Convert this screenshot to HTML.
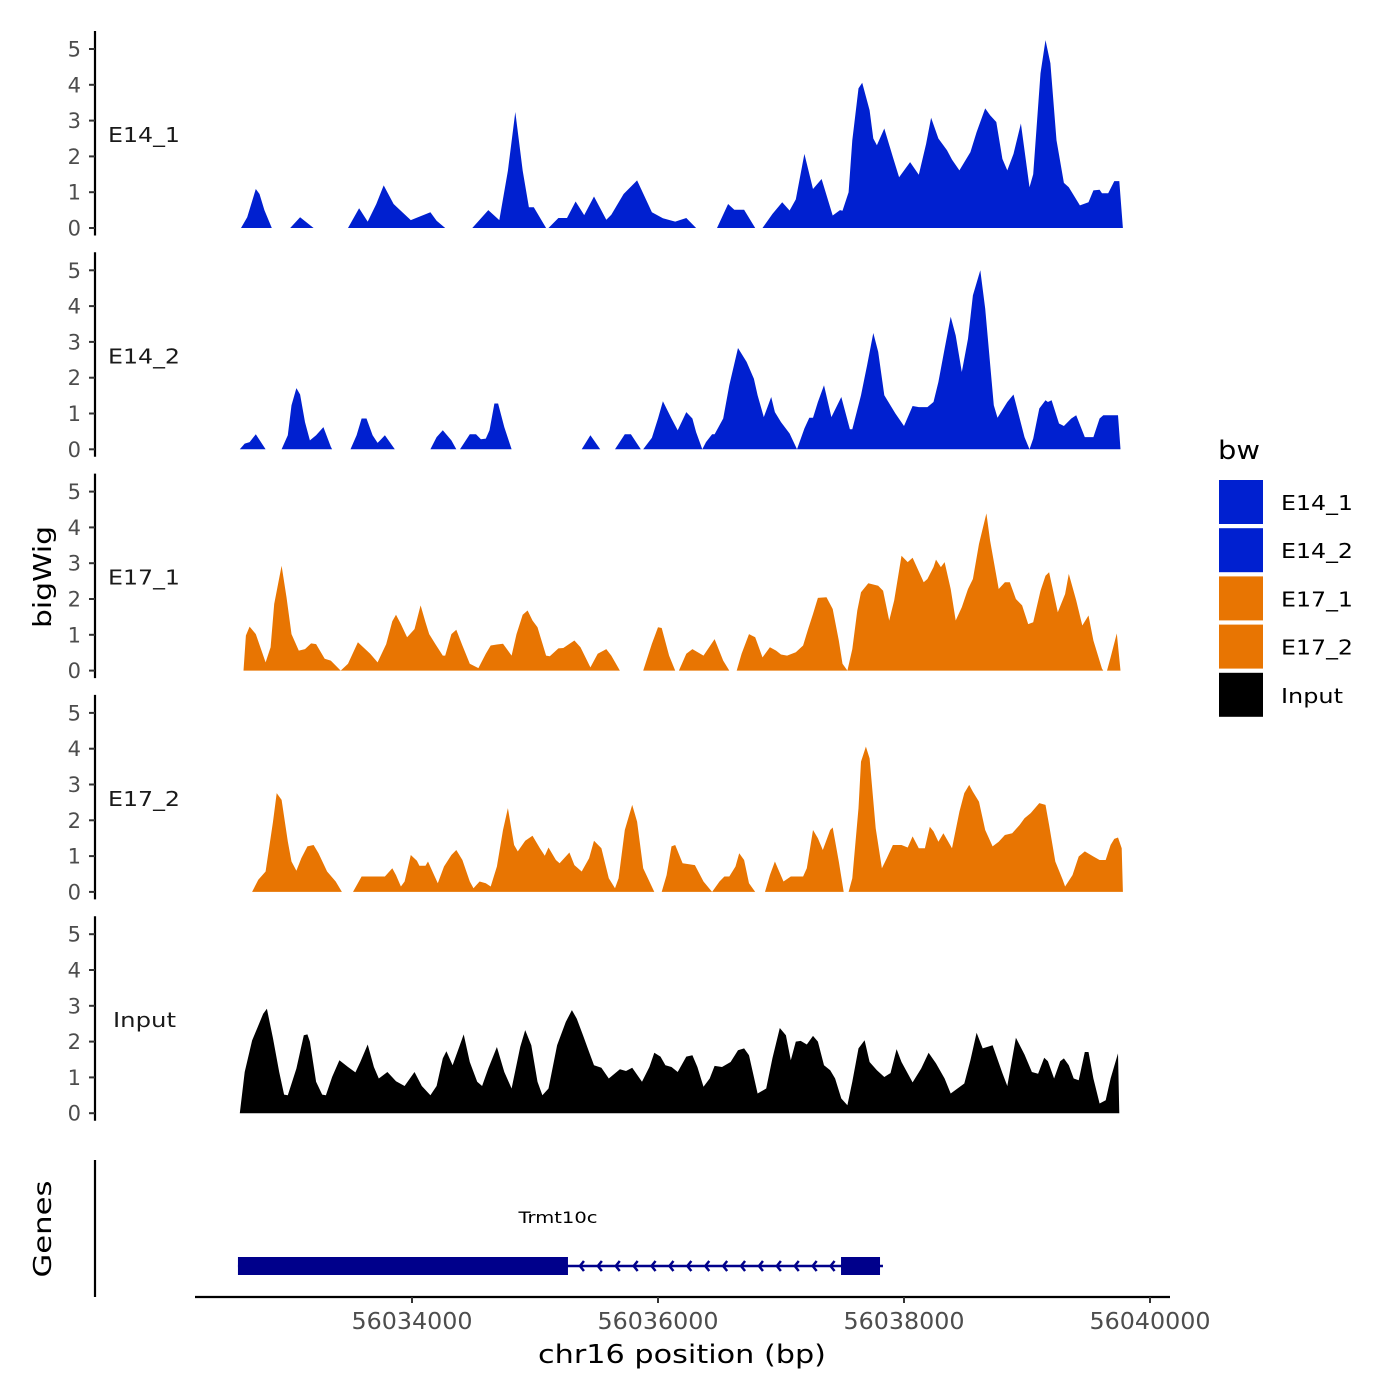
<!DOCTYPE html>
<html><head><meta charset="utf-8"><style>
html,body{margin:0;padding:0;background:#fff;}
svg{display:block;font-family:"DejaVu Sans","Liberation Sans",sans-serif;}
</style></head><body>
<svg id="chart" width="1400" height="1400" viewBox="0 0 1400 1400" xmlns="http://www.w3.org/2000/svg">
<g id="axes"></g><g id="tracks"></g><g id="genes"></g><g id="legend"></g>
</svg>
<script>
const trackNames = ["E14_1","E14_2","E17_1","E17_2","Input"];
const trackColors = ["#0020d0","#0020d0","#e87502","#e87502","#000000"];
const yTicks = [0,1,2,3,4,5];
const xTicks = [56034000,56036000,56038000,56040000];

const e14_1_pos = [56032610,56032660,56032710,56032730,56032760,56032800,56032860,null,56033010,56033090,56033200,null,56033480,56033570,56033640,56033710,56033770,56033850,56033900,56033990,56034150,56034200,56034270,null,56034490,56034620,56034710,56034780,56034840,56034900,56034950,56034990,56035090,null,56035110,56035190,56035260,56035330,56035400,56035480,56035580,56035620,56035720,56035830,56035950,56036040,56036140,56036230,56036310,null,56036480,56036570,56036620,56036700,56036790,null,56036850,56036930,56037010,56037070,56037120,56037190,56037260,56037330,56037420,56037480,56037500,56037550,56037580,56037630,56037660,56037720,56037750,56037780,56037840,56037910,56037960,56038050,56038120,56038180,56038220,56038280,56038350,56038390,56038450,56038540,56038590,56038660,56038700,56038750,56038800,56038840,56038890,56038950,56039020,56039050,56039110,56039150,56039190,56039240,56039300,56039340,56039430,56039500,56039540,56039590,56039610,56039660,56039710,56039750,56039780];
const e14_1_val = [0,0.3,0.86,1.09,0.95,0.5,0,null,0,0.3,0,null,0,0.55,0.18,0.67,1.19,0.67,0.51,0.22,0.44,0.2,0,null,0,0.5,0.22,1.6,3.24,1.6,0.58,0.58,0,null,0,0.28,0.28,0.74,0.36,0.88,0.23,0.37,0.95,1.33,0.44,0.27,0.18,0.28,0,null,0,0.67,0.51,0.51,0,null,0,0.39,0.72,0.49,0.8,2.07,1.09,1.37,0.35,0.5,0.48,1.0,2.45,3.9,4.06,3.29,2.5,2.31,2.78,1.98,1.42,1.84,1.49,2.35,3.08,2.5,2.17,1.91,1.61,2.12,2.68,3.34,3.15,2.96,1.93,1.61,2.07,2.92,1.14,1.5,4.32,5.25,4.6,2.45,1.26,1.14,0.63,0.72,1.05,1.07,0.97,0.97,1.31,1.31,0];

const e14_2_pos = [56032600,56032640,56032680,56032730,56032810,null,56032940,56032990,56033020,56033060,56033090,56033130,56033170,56033220,56033280,56033340,56033350,null,56033500,56033550,56033590,56033630,56033680,56033720,56033780,56033860,null,56034150,56034200,56034250,56034320,56034360,null,56034390,56034470,56034520,56034560,56034600,56034630,56034670,56034700,56034750,56034810,null,56035380,56035450,56035530,null,56035650,56035730,56035780,56035860,null,56035880,56035950,56036000,56036040,56036110,56036160,56036230,56036280,56036310,56036360,56036390,56036440,56036460,56036530,56036580,56036650,56036720,56036780,56036810,56036860,56036920,56036950,56037000,56037070,56037130,56037190,56037230,56037260,56037300,56037350,56037410,56037490,56037560,56037580,56037650,56037700,56037750,56037790,56037840,56037930,56038000,56038070,56038120,56038190,56038240,56038280,56038330,56038380,56038420,56038470,56038520,56038560,56038620,56038660,56038730,56038760,56038840,56038890,56038980,56039020,56039050,56039100,56039150,56039170,56039200,56039260,56039300,56039360,56039400,56039470,56039540,56039590,56039620,56039740,56039760];
const e14_2_val = [0,0.16,0.2,0.42,0,null,0,0.39,1.23,1.71,1.53,0.76,0.25,0.39,0.62,0.07,0,null,0,0.39,0.86,0.86,0.39,0.18,0.39,0,null,0,0.34,0.53,0.25,0,null,0,0.42,0.42,0.28,0.3,0.53,1.28,1.28,0.62,0,null,0,0.39,0,null,0,0.42,0.42,0,null,0,0.32,0.86,1.34,0.86,0.53,1.04,0.86,0.48,0,0.2,0.42,0.42,0.86,1.79,2.83,2.44,1.97,1.51,0.9,1.46,1.04,0.76,0.44,0,0.58,0.88,0.88,1.32,1.79,0.9,1.46,0.56,0.56,1.51,2.35,3.25,2.72,1.51,1.0,0.65,1.21,1.18,1.18,1.32,1.88,2.81,3.7,3.18,2.16,3.09,4.3,5.0,3.93,1.23,0.88,1.32,1.53,0.34,0,0.3,1.14,1.37,1.32,1.37,0.72,0.65,0.86,0.95,0.34,0.34,0.86,0.95,0.95,0];

const e17_1_pos = [56032630,56032650,56032680,56032730,56032810,56032850,56032880,56032940,56032980,56033020,56033080,56033130,56033180,56033220,56033290,56033340,56033420,56033480,56033560,56033660,56033720,56033790,56033840,56033870,56033910,56033960,56034020,56034070,56034110,56034140,56034190,56034250,56034270,56034320,56034360,56034410,56034470,56034540,56034600,56034640,56034690,56034740,56034810,56034850,56034900,56034940,56034980,56035020,56035090,56035120,56035190,56035230,56035320,56035370,56035450,56035510,56035580,56035620,56035690,null,56035880,56035950,56036000,56036030,56036090,56036140,null,56036170,56036230,56036280,56036370,56036460,56036530,56036580,null,56036640,56036680,56036740,56036790,56036850,56036910,56036960,56037000,56037050,56037120,56037180,56037220,56037260,56037300,56037370,56037420,56037470,56037500,56037540,56037580,56037620,56037650,56037710,56037790,56037830,56037880,56037920,56037980,56038030,56038070,56038160,56038190,56038240,56038260,56038300,56038330,56038380,56038420,56038470,56038520,56038560,56038610,56038670,56038700,56038770,56038820,56038860,56038910,56038960,56039010,56039050,56039110,56039150,56039180,56039250,56039310,56039340,56039400,56039450,56039500,56039540,56039610,56039620,null,56039650,56039680,56039730,56039760];
const e17_1_val = [0,0.98,1.23,1.02,0.23,0.65,1.86,2.93,2.05,1.02,0.56,0.6,0.76,0.74,0.33,0.28,0,0.19,0.79,0.47,0.23,0.74,1.38,1.56,1.3,0.93,1.16,1.82,1.35,1.02,0.74,0.42,0.42,1.02,1.14,0.7,0.19,0.07,0.47,0.7,0.73,0.75,0.42,1.02,1.56,1.68,1.4,1.21,0.42,0.4,0.62,0.63,0.84,0.65,0.09,0.47,0.6,0.42,0,null,0,0.75,1.21,1.19,0.42,0,null,0,0.47,0.6,0.42,0.88,0.28,0,null,0,0.47,1.02,0.93,0.37,0.65,0.56,0.45,0.42,0.51,0.7,1.16,1.58,2.03,2.05,1.72,0.84,0.19,0,0.6,1.68,2.19,2.44,2.37,2.23,1.4,1.96,3.21,3.03,3.15,2.47,2.56,2.89,3.1,2.89,3.03,2.28,1.4,1.77,2.28,2.56,3.54,4.39,3.63,2.28,2.47,2.47,2.0,1.82,1.3,1.35,2.23,2.65,2.75,1.63,2.14,2.7,1.96,1.26,1.54,0.84,0.05,0,null,0,0.37,1.04,0];

const e17_2_pos = [56032700,56032750,56032810,56032870,56032900,56032940,56032990,56033020,56033060,56033100,56033150,56033200,56033240,56033310,56033380,56033430,null,56033520,56033590,56033780,56033840,56033870,56033910,56033940,56033990,56034040,56034060,56034110,56034130,56034180,56034210,56034260,56034320,56034360,56034410,56034470,56034500,56034550,56034600,56034640,56034690,56034740,56034780,56034830,56034860,56034920,56034980,56035040,56035080,56035110,56035170,56035200,56035280,56035320,56035380,56035440,56035480,56035540,56035600,56035650,56035680,56035730,56035790,56035830,56035880,56035970,null,56036030,56036070,56036110,56036140,56036200,56036300,56036370,56036440,56036500,56036540,56036580,56036630,56036660,56036700,56036740,56036790,null,56036870,56036910,56036950,56037020,56037080,56037180,56037210,56037260,56037300,56037340,56037400,56037420,56037470,56037510,null,56037550,56037580,56037630,56037650,56037690,56037720,56037770,56037820,56037860,56037910,56037980,56038030,56038070,56038120,56038170,56038210,56038240,56038280,56038320,56038390,56038450,56038490,56038530,56038560,56038610,56038660,56038720,56038770,56038820,56038880,56038940,56038980,56039030,56039100,56039150,56039180,56039230,56039290,56039310,56039370,56039420,56039470,56039540,56039590,56039640,56039680,56039710,56039740,56039770,56039780];
const e17_2_val = [0,0.34,0.57,1.96,2.76,2.57,1.41,0.85,0.59,0.94,1.27,1.31,1.08,0.57,0.29,0,null,0,0.43,0.43,0.66,0.47,0.15,0.29,1.03,0.87,0.73,0.73,0.85,0.47,0.24,0.71,1.03,1.17,0.89,0.29,0.1,0.29,0.24,0.15,0.71,1.73,2.34,1.31,1.13,1.43,1.57,1.22,1.01,1.24,0.89,0.8,1.1,0.75,0.57,0.94,1.43,1.22,0.38,0.1,0.38,1.73,2.43,1.96,0.66,0,null,0,0.47,1.27,1.31,0.8,0.75,0.29,0,0.29,0.43,0.43,0.71,1.08,0.89,0.24,0,null,0,0.47,0.85,0.29,0.43,0.43,0.66,1.73,1.5,1.17,1.73,1.8,0.85,0,null,0,0.38,2.34,3.64,4.06,3.73,1.78,0.66,0.94,1.31,1.31,1.24,1.55,1.22,1.22,1.82,1.69,1.4,1.64,1.22,2.24,2.76,2.99,2.8,2.52,1.73,1.27,1.4,1.59,1.64,1.87,2.06,2.2,2.48,2.43,1.87,0.85,0.34,0.15,0.47,0.99,1.13,0.99,0.89,0.89,1.31,1.48,1.52,1.22,0];

const input_pos = [56032600,56032640,56032700,56032740,56032790,56032820,56032870,56032920,56032960,56032990,56033060,56033120,56033150,56033170,56033220,56033270,56033300,56033350,56033410,56033480,56033540,56033580,56033640,56033690,56033730,56033800,56033870,56033940,56034020,56034080,56034150,56034200,56034250,56034280,56034330,56034380,56034420,56034470,56034530,56034570,56034620,56034690,56034750,56034810,56034880,56034920,56034970,56035020,56035060,56035110,56035180,56035250,56035300,56035340,56035390,56035440,56035480,56035540,56035600,56035690,56035740,56035790,56035870,56035930,56035970,56036020,56036060,56036110,56036160,56036230,56036280,56036320,56036370,56036420,56036460,56036520,56036590,56036650,56036700,56036740,56036810,56036880,56036930,56036990,56037040,56037080,56037120,56037160,56037210,56037260,56037300,56037350,56037400,56037440,56037490,56037540,56037580,56037630,56037680,56037720,56037780,56037840,56037890,56037940,56037980,56038070,56038140,56038200,56038260,56038330,56038380,56038490,56038540,56038590,56038640,56038720,56038800,56038840,56038910,56038980,56039040,56039090,56039140,56039170,56039220,56039270,56039300,56039340,56039380,56039420,56039470,56039500,56039540,56039590,56039640,56039680,56039740,56039750];
const input_val = [0,1.15,2.03,2.36,2.78,2.92,2.09,1.15,0.52,0.5,1.25,2.18,2.2,2.0,0.88,0.52,0.5,1.01,1.48,1.29,1.14,1.43,1.92,1.29,0.97,1.15,0.89,0.76,1.15,0.76,0.5,0.76,1.53,1.73,1.34,1.81,2.2,1.43,0.88,0.76,1.25,1.85,1.15,0.69,1.85,2.32,1.9,0.88,0.5,0.69,1.9,2.55,2.88,2.64,2.18,1.71,1.34,1.27,0.97,1.23,1.18,1.27,0.88,1.29,1.69,1.58,1.34,1.29,1.15,1.58,1.62,1.29,0.74,0.97,1.32,1.29,1.43,1.76,1.81,1.62,0.55,0.69,1.53,2.38,2.18,1.48,2.0,2.02,1.92,2.16,2.0,1.34,1.2,0.97,0.41,0.22,0.88,1.81,2.04,1.43,1.2,1.01,1.12,1.79,1.43,0.86,1.25,1.69,1.39,0.97,0.55,0.83,1.48,2.25,1.81,1.9,1.12,0.76,2.11,1.64,1.15,1.1,1.55,1.45,0.97,1.45,1.53,1.34,0.97,0.92,1.71,1.71,0.97,0.27,0.36,0.97,1.67,0];

const trackPos = [e14_1_pos,e14_2_pos,e17_1_pos,e17_2_pos,input_pos];
const trackVal = [e14_1_val,e14_2_val,e17_1_val,e17_2_val,input_val];

const geneName = "Trmt10c";
const geneStart = 56032585, geneEnd = 56037829;
const exonStarts = [56032585,56037488];
const exonEnds = [56035268,56037805];

const NS="http://www.w3.org/2000/svg";
function el(tag, attrs, parent, text){const e=document.createElementNS(NS,tag);for(const k in attrs)e.setAttribute(k,attrs[k]);if(text!==undefined)e.textContent=text;parent.appendChild(e);return e;}
function xs(bp){return 412+(bp-56034000)*0.123;}
const base0=228, panelStep=221.3, unit=35.8;
function ys(i,v){return base0+i*panelStep-v*unit;}

const axes=document.getElementById('axes'), tracks=document.getElementById('tracks');
trackNames.forEach((name,i)=>{
  const b=base0+i*panelStep;
  const ax=el('line',{x1:95,x2:95,y1:b-197,y2:b+7.5,stroke:'#000','stroke-width':2.2},axes);
  
  
  yTicks.forEach(t=>{
    const y=ys(i,t);
    const tk=el('line',{x1:89,x2:95,y1:y,y2:y,stroke:'#333','stroke-width':2},axes);
    
    
    const tl=el('text',{x:81,y:y+7.5,'text-anchor':'end','font-size':21,fill:'#4d4d4d'},axes,String(t));
    
    
  });
  const lbl=el('text',{x:name==='Input'?113:108,y:b-86,'font-size':20,fill:'#1a1a1a',textLength:name==='Input'?63:72,lengthAdjust:'spacingAndGlyphs'},axes,name);
  
  
  // area path
  const P=trackPos[i],V=trackVal[i];let d='',seg=[];
  const flush=()=>{if(seg.length){d+='M'+xs(seg[0][0]).toFixed(1)+','+b;seg.forEach(p=>{d+='L'+xs(p[0]).toFixed(1)+','+ys(i,p[1]).toFixed(1);});d+='L'+xs(seg[seg.length-1][0]).toFixed(1)+','+b+'Z';}seg=[];};
  for(let k=0;k<P.length;k++){if(P[k]===null)flush();else seg.push([P[k],V[k]]);}
  flush();
  const area=el('path',{d:d,fill:trackColors[i],stroke:'none'},tracks);
  
  
});
const yt=el('text',{x:0,y:0,'font-size':25,fill:'#000','text-anchor':'middle',transform:'translate(51,577) rotate(-90)',textLength:102,lengthAdjust:'spacingAndGlyphs'},axes,'bigWig');



// genes panel
const g=document.getElementById('genes');
const gax=el('line',{x1:95,x2:95,y1:1160,y2:1297,stroke:'#000','stroke-width':2.2},g);


const gt=el('text',{x:0,y:0,'font-size':25,fill:'#000','text-anchor':'middle',transform:'translate(51,1229) rotate(-90)',textLength:97,lengthAdjust:'spacingAndGlyphs'},g,'Genes');


const gy=1266;
const gl=el('line',{x1:xs(geneStart),x2:xs(geneEnd),y1:gy,y2:gy,stroke:'#00008b','stroke-width':2.5},g);


const intronA=xs(exonEnds[0]), intronB=xs(exonStarts[1]);
for(let x=intronA+12;x<intronB-4;x+=17.9){
  const c=el('path',{d:`M${x+4},${gy-5}L${x},${gy}L${x+4},${gy+5}`,fill:'none',stroke:'#00008b','stroke-width':2.5},g);
  
  
}
exonStarts.forEach((s,k)=>{
  const r=el('rect',{x:xs(s),y:1257,width:xs(exonEnds[k])-xs(s),height:18,fill:'#00008b'},g);
  
  
});
const gn=el('text',{x:558,y:1223,'font-size':16,'text-anchor':'middle',fill:'#000',textLength:79,lengthAdjust:'spacingAndGlyphs'},g,geneName);



// x axis
const xa=el('line',{x1:195,x2:1170,y1:1297,y2:1297,stroke:'#000','stroke-width':2.2},g);


xTicks.forEach(t=>{
  const x=xs(t);
  const tk=el('line',{x1:x,x2:x,y1:1297,y2:1303,stroke:'#333','stroke-width':2},g);
  
  
  const tl=el('text',{x:x,y:1329,'text-anchor':'middle','font-size':23,fill:'#4d4d4d',textLength:121,lengthAdjust:'spacingAndGlyphs'},g,String(t));
  
  
});
const xt=el('text',{x:682,y:1363,'text-anchor':'middle','font-size':26,fill:'#000',textLength:288,lengthAdjust:'spacingAndGlyphs'},g,'chr16 position (bp)');



// legend
const lg=document.getElementById('legend');
const lt=el('text',{x:1218,y:459,'font-size':26,fill:'#000',textLength:42,lengthAdjust:'spacingAndGlyphs'},lg,'bw');


trackNames.forEach((name,i)=>{
  const y=480+i*48.2;
  const r=el('rect',{x:1219,y:y,width:44,height:44,fill:trackColors[i]},lg);
  
  
  const t=el('text',{x:1281,y:y+30,'font-size':20,fill:'#000',textLength:name==='Input'?62:72,lengthAdjust:'spacingAndGlyphs'},lg,name);
  
  
});
</script>
</body></html>
